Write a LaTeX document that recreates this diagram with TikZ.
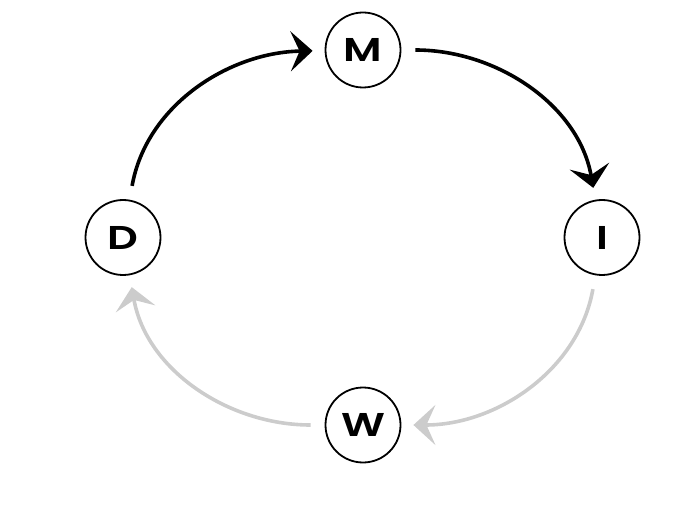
\documentclass[tikz,border=0pt]{standalone}
\usepackage{fontspec}
\newfontfamily\labfont[FakeStretch=1.3]{Poppins SemiBold}
\usetikzlibrary{arrows.meta}
\definecolor{paleflow}{RGB}{204,204,204}
\begin{document}
\begin{tikzpicture}[x=1pt,y=1pt,
  stage/.style={circle, draw=black, line width=1.8pt, minimum size=75pt,
    inner sep=0pt, font=\labfont\fontsize{33}{33}\selectfont},
  flow/.style={line width=3.6pt, looseness=1.0,
    -{Stealth[length=22pt, width=40pt, inset=9pt]},
    shorten <=14pt, shorten >=12pt},
  active/.style={flow, draw=black},
  idle/.style={flow, draw=paleflow}]
  \useasboundingbox (0,0) rectangle (696,504);
  \node[stage] (M) at (363,454) {M};
  \node[stage] (I) at (602,266.5) {I};
  \node[stage] (W) at (363,79) {W};
  \node[stage] (D) at (123,266.5) {D};
  \draw[active] (D) to[out=80, in=181] (M);
  \draw[active] (M) to[out=0, in=100] (I);
  \draw[idle] (I) to[out=-100, in=0] (W);
  \draw[idle] (W) to[out=180, in=-80] (D);
\end{tikzpicture}
\end{document}
